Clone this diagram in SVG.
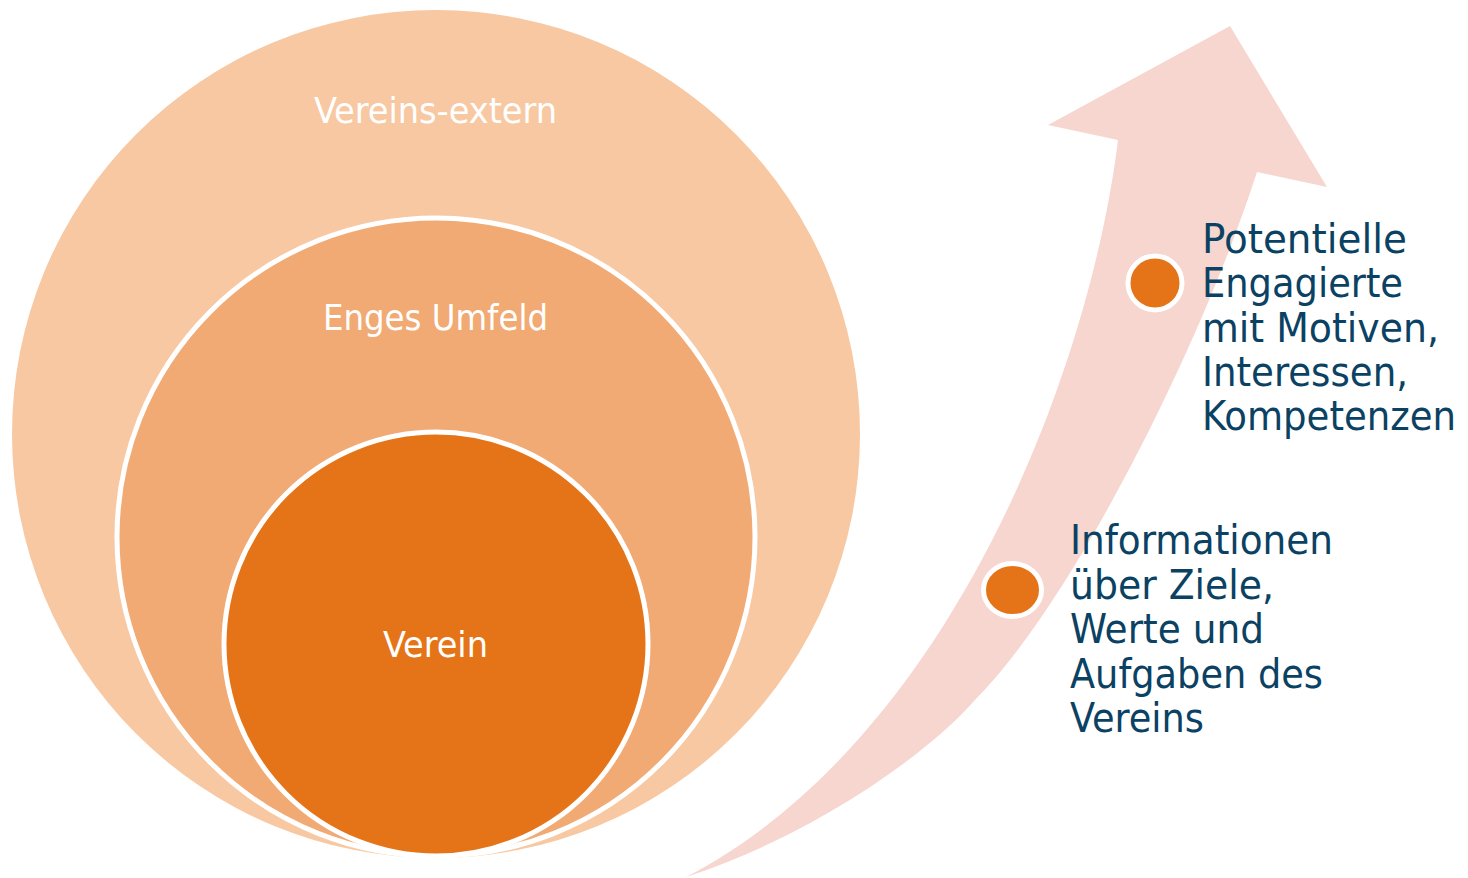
<svg xmlns="http://www.w3.org/2000/svg" width="1468" height="878" viewBox="0 0 1468 878">
  <style>
    .lbl { font-family: "DejaVu Sans Condensed", "DejaVu Sans", "Liberation Sans", sans-serif; font-stretch: condensed; }
    .ring { fill: #FFFFFF; font-size: 35px; text-anchor: start; }
    .side { fill: #0B4263; font-size: 41px; }
    .dot { fill: #E57418; stroke: #FFFFFF; stroke-width: 5; }
  </style>
  <rect x="0" y="0" width="1468" height="878" fill="#FFFFFF"/>

  <g id="arrow">
    <path d="M1118,140 L1048,125 L1230,26 L1327,187 L1257,172 C1199,352 1070,605 975,700 C930,752 815,835 686,877 C950,740 1090,370 1118,140 Z" fill="#F6D6CE"/>
  </g>

  <g id="vereins-extern">
    <circle cx="436" cy="434" r="424" fill="#F7C8A2"/>
    <text class="lbl ring" x="314" y="123" textLength="243" lengthAdjust="spacingAndGlyphs">Vereins-extern</text>
  </g>
  <g id="enges-umfeld">
    <circle cx="436" cy="537" r="319" fill="#F1AA74" stroke="#FFFFFF" stroke-width="5"/>
    <text class="lbl ring" x="323" y="330" textLength="225" lengthAdjust="spacingAndGlyphs">Enges Umfeld</text>
  </g>
  <g id="verein">
    <circle cx="436" cy="644" r="212" fill="#E57418" stroke="#FFFFFF" stroke-width="5"/>
    <text class="lbl ring" x="383" y="657" textLength="105" lengthAdjust="spacingAndGlyphs">Verein</text>
  </g>

  <g id="potentielle-engagierte">
    <circle class="dot" cx="1155" cy="283" r="27"/>
    <text class="lbl side">
      <tspan x="1202" y="253" textLength="205" lengthAdjust="spacingAndGlyphs">Potentielle</tspan>
      <tspan x="1202" y="297.3" textLength="201" lengthAdjust="spacingAndGlyphs">Engagierte</tspan>
      <tspan x="1202" y="341.6" textLength="237" lengthAdjust="spacingAndGlyphs">mit Motiven,</tspan>
      <tspan x="1202" y="385.9" textLength="206" lengthAdjust="spacingAndGlyphs">Interessen,</tspan>
      <tspan x="1202" y="430.2" textLength="254" lengthAdjust="spacingAndGlyphs">Kompetenzen</tspan>
    </text>
  </g>

  <g id="informationen">
    <ellipse class="dot" cx="1012.5" cy="590" rx="29" ry="26.5"/>
    <text class="lbl side">
      <tspan x="1070" y="554" textLength="263" lengthAdjust="spacingAndGlyphs">Informationen</tspan>
      <tspan x="1070" y="598.5" textLength="204" lengthAdjust="spacingAndGlyphs">über Ziele,</tspan>
      <tspan x="1070" y="643" textLength="194" lengthAdjust="spacingAndGlyphs">Werte und</tspan>
      <tspan x="1070" y="687.5" textLength="253" lengthAdjust="spacingAndGlyphs">Aufgaben des</tspan>
      <tspan x="1070" y="732" textLength="134" lengthAdjust="spacingAndGlyphs">Vereins</tspan>
    </text>
  </g>
</svg>
